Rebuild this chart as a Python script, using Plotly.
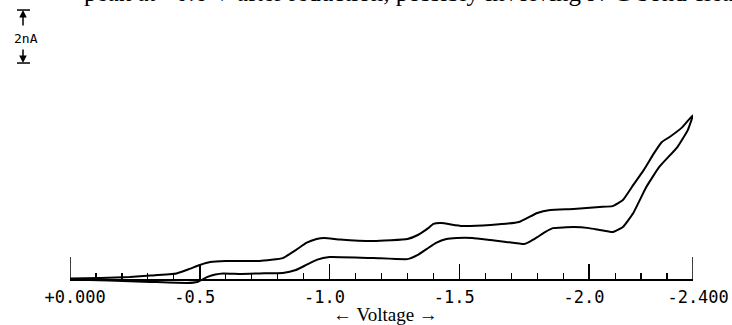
import plotly.graph_objects as go

# ---------------- data (voltage in V, current in nA) ----------------
fwd_v = [0.0, -0.12, -0.23, -0.31, -0.41, -0.46, -0.50, -0.54, -0.60, -0.73,
         -0.82, -0.87, -0.91, -0.95, -0.98, -1.04, -1.17, -1.30, -1.34, -1.38,
         -1.40, -1.43, -1.51, -1.62, -1.73, -1.80, -1.85, -1.94, -2.04, -2.09,
         -2.13, -2.17, -2.21, -2.25, -2.28, -2.31, -2.36, -2.40]
fwd_i = [0.02, 0.04, 0.08, 0.13, 0.21, 0.38, 0.53, 0.64, 0.68, 0.68,
         0.79, 1.09, 1.36, 1.51, 1.55, 1.49, 1.43, 1.51, 1.66, 1.92,
         2.08, 2.11, 2.00, 2.04, 2.15, 2.49, 2.60, 2.64, 2.72, 2.75,
         2.98, 3.55, 4.11, 4.75, 5.17, 5.36, 5.74, 6.19]

rev_v = [-2.40, -2.38, -2.34, -2.27, -2.22, -2.17, -2.13, -2.09, -2.04, -2.00,
         -1.94, -1.86, -1.83, -1.80, -1.77, -1.75, -1.68, -1.62, -1.55, -1.49,
         -1.45, -1.41, -1.38, -1.34, -1.30, -1.17, -1.00, -0.95, -0.91, -0.87,
         -0.82, -0.73, -0.66, -0.59, -0.56, -0.53, -0.49, -0.45, -0.31, -0.15, 0.0]
rev_i = [6.19, 5.62, 4.98, 4.23, 3.47, 2.49, 1.96, 1.77, 1.85, 1.92,
         1.96, 1.92, 1.77, 1.58, 1.40, 1.32, 1.40, 1.47, 1.55, 1.55,
         1.51, 1.36, 1.17, 0.91, 0.75, 0.79, 0.83, 0.72, 0.53, 0.34,
         0.23, 0.21, 0.19, 0.21, 0.17, 0.08, -0.11, -0.15, -0.11, -0.06, -0.02]

major_ticks = [0.0, -0.5, -1.0, -1.5, -2.0, -2.4]
major_labels = ["\u00a0+0.000", "-0.5\u00a0", "-1.0\u00a0", "-1.5\u00a0", "-2.0\u00a0", "\u00a0-2.400"]
end_ticks = [0.0, -2.4]
x_range = [0.0, -2.4]
scale_na = 2.0
scale_label = "2nA"
x_title = "\u2190 Voltage \u2192"
top_text = "peak at \u22120.6 V after reduction, possibly involving N-C bond cleavage"

# ---------------- geometry ----------------
W, H = 732, 325
ML, MR, MT, MB = 70, 39, 0, 35
PW, PH = W - ML - MR, H - MT - MB
PX_PER_NA = 26.5
ZERO_PX = 279  # pixel row of zero current
YMIN = -(MT + PH - ZERO_PX) / PX_PER_NA
YMAX = (ZERO_PX - MT) / PX_PER_NA


def paper_y_from_i(i):
    return (i - YMIN) / (YMAX - YMIN)


def px_x(px):
    return (px - ML) / PW


def px_y(py):
    return (MT + PH - py) / PH


axis_pos = paper_y_from_i(0.0)

fig = go.Figure()
fig.add_trace(go.Scatter(
    x=fwd_v + rev_v[1:], y=fwd_i + rev_i[1:], mode="lines",
    line=dict(color="black", width=2, shape="spline", smoothing=0.35),
    cliponaxis=False, showlegend=False, hoverinfo="skip"))

# longer end ticks at the two limits of the scan
tick_top = paper_y_from_i(22 / PX_PER_NA)
for v in end_ticks:
    fig.add_shape(type="line", xref="x", yref="paper", x0=v, x1=v,
                  y0=axis_pos, y1=tick_top, line=dict(color="black", width=1.5))

# current scale bar
bar_bot = 8.15
bar_top = bar_bot + scale_na
sx = px_x(23)
for i_val in (bar_bot, bar_top):
    fig.add_shape(type="line", xref="paper", yref="paper",
                  x0=px_x(17), x1=px_x(30), y0=paper_y_from_i(i_val), y1=paper_y_from_i(i_val),
                  line=dict(color="black", width=1.5))
fig.add_annotation(xref="paper", yref="paper", x=sx, y=paper_y_from_i(bar_top),
                   ax=0, ay=17, text="", showarrow=True, arrowhead=2, arrowsize=1,
                   arrowwidth=1.5, arrowcolor="black", standoff=0)
fig.add_annotation(xref="paper", yref="paper", x=sx, y=paper_y_from_i(bar_bot),
                   ax=0, ay=-15, text="", showarrow=True, arrowhead=2, arrowsize=1,
                   arrowwidth=1.5, arrowcolor="black", standoff=0)
fig.add_annotation(xref="paper", yref="paper", x=px_x(26), y=px_y(38),
                   text=scale_label, showarrow=False, xanchor="center", yanchor="middle",
                   font=dict(family="DejaVu Sans Mono", size=13, color="black"))

# axis title
fig.add_annotation(xref="paper", yref="paper", x=px_x(385), y=px_y(302),
                   text=x_title, showarrow=False, xanchor="center", yanchor="top",
                   font=dict(family="Liberation Serif", size=19, color="black"))

# cropped line of page text at the very top
fig.add_annotation(xref="paper", yref="paper", x=px_x(82), y=px_y(8),
                   text=top_text, showarrow=False, xanchor="left", yanchor="bottom",
                   font=dict(family="Liberation Serif", size=25, color="black"))

fig.update_layout(
    width=W, height=H,
    margin=dict(l=ML, r=MR, t=MT, b=MB, pad=0),
    paper_bgcolor="white", plot_bgcolor="white",
    showlegend=False,
    xaxis=dict(range=x_range, anchor="free", position=axis_pos,
               showgrid=False, zeroline=False, showline=True,
               linecolor="black", linewidth=1.5,
               tickmode="array", tickvals=major_ticks, ticktext=major_labels,
               ticks="inside", ticklen=15, tickwidth=1.5, tickcolor="black",
               ticklabelstandoff=2,
               tickfont=dict(family="DejaVu Sans Mono", size=17, color="black"),
               minor=dict(dtick=0.1, tick0=0, ticks="inside", ticklen=6,
                          tickwidth=1.2, tickcolor="black", showgrid=False)),
    yaxis=dict(range=[YMIN, YMAX], visible=False, showgrid=False, zeroline=False),
)

fig.write_html("out.html", config={"displayModeBar": False, "staticPlot": True},
               post_script="document.body.style.margin='0';document.body.style.overflow='hidden';")
